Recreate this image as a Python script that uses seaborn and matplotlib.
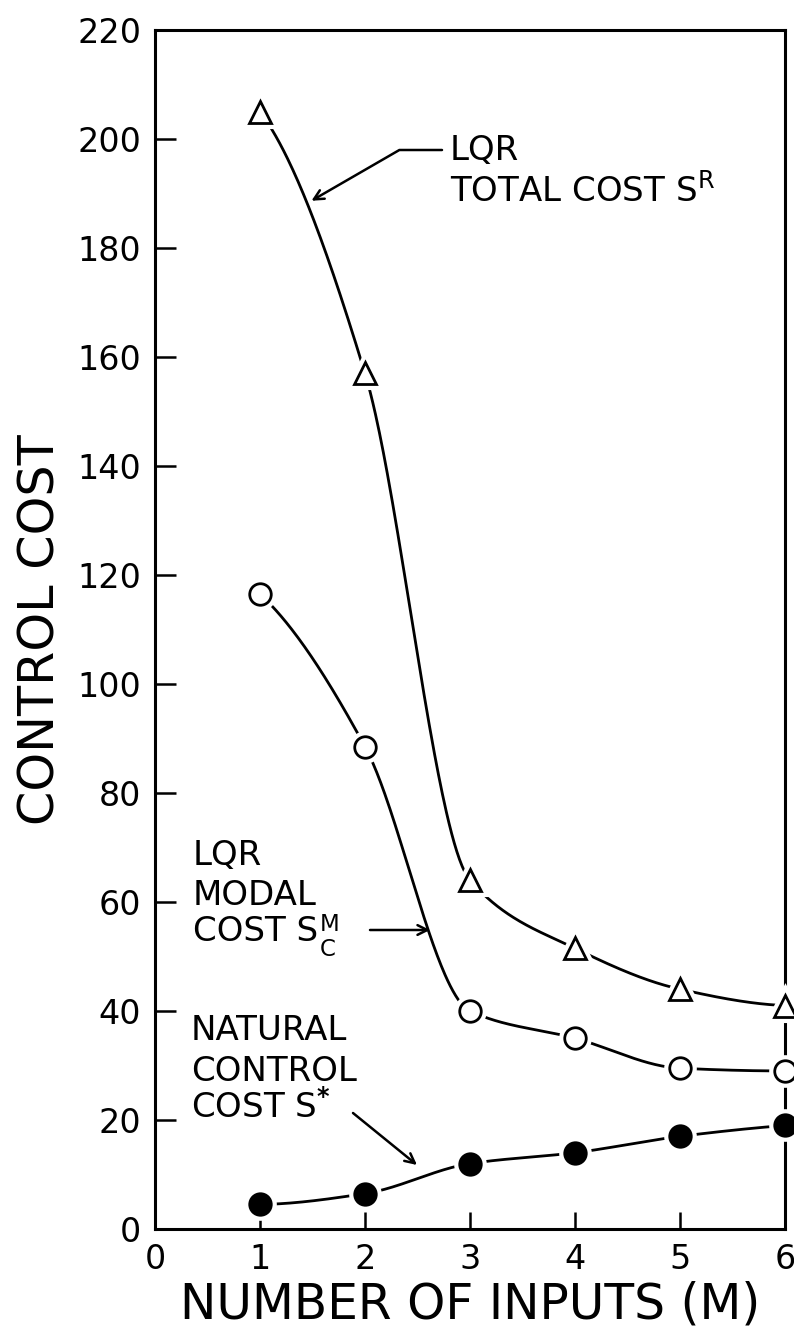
import numpy as np
import matplotlib
matplotlib.use("Agg")
import matplotlib.pyplot as plt
import seaborn as sns

# ---------------- data ----------------
inputs = [1, 2, 3, 4, 5, 6]
lqr_total = [205, 157, 64, 51.5, 44, 41]        # LQR total cost S^R (triangles)
lqr_modal = [116.5, 88.5, 40, 35, 29.5, 29]     # LQR modal cost S_C^M (open circles)
natural_cost = [4.5, 6.5, 12, 14, 17, 19]       # natural control cost S* (filled dots)
x_ticks = [0, 1, 2, 3, 4, 5, 6]
y_ticks = [0, 20, 40, 60, 80, 100, 120, 140, 160, 180, 200, 220]

sns.set_style("white")
plt.rcParams["font.family"] = ["DejaVu Sans"]
plt.rcParams["mathtext.fontset"] = "dejavusans"
plt.rcParams["text.color"] = "black"
plt.rcParams["axes.labelcolor"] = "black"

W, H, DPI = 794, 1335, 100
fig = plt.figure(figsize=(W / DPI, H / DPI), dpi=DPI)
L, R, T, B = 155, 785, 30, 1229
ax = fig.add_axes([L / W, 1 - B / H, (R - L) / W, (B - T) / H])
ax.set_xlim(0, 6)
ax.set_ylim(0, 220)


def smooth(x, y, per=80):
    """Monotone (PCHIP) smoothing used only to draw the curve through the points."""
    x = np.asarray(x, float)
    y = np.asarray(y, float)
    h = np.diff(x)
    d = np.diff(y) / h
    m = np.zeros_like(y)
    for i in range(1, len(x) - 1):
        if d[i - 1] * d[i] > 0:
            w1 = 2 * h[i] + h[i - 1]
            w2 = h[i] + 2 * h[i - 1]
            m[i] = (w1 + w2) / (w1 / d[i - 1] + w2 / d[i])

    def end(h0, h1, d0, d1):
        mm = ((2 * h0 + h1) * d0 - h0 * d1) / (h0 + h1)
        if np.sign(mm) != np.sign(d0):
            mm = 0.0
        elif np.sign(d0) != np.sign(d1) and abs(mm) > abs(3 * d0):
            mm = 3 * d0
        return mm

    m[0] = end(h[0], h[1], d[0], d[1])
    m[-1] = end(h[-1], h[-2], d[-1], d[-2])
    xs, ys = [], []
    for i in range(len(x) - 1):
        t = np.linspace(0, 1, per, endpoint=(i == len(x) - 2))
        h00 = 2 * t**3 - 3 * t**2 + 1
        h10 = t**3 - 2 * t**2 + t
        h01 = -2 * t**3 + 3 * t**2
        h11 = t**3 - t**2
        xs.append(x[i] + t * h[i])
        ys.append(h00 * y[i] + h10 * h[i] * m[i] + h01 * y[i + 1] + h11 * h[i] * m[i + 1])
    return np.concatenate(xs), np.concatenate(ys)


series = [
    (lqr_total, "^", "white", 15.5),
    (lqr_modal, "o", "white", 15.5),
    (natural_cost, "o", "black", 15.5),
]

curves = []
for vals, mk, fc, ms in series:
    xs, ys = smooth(inputs, vals)
    curves.append((xs, ys))
    sns.lineplot(x=xs, y=ys, ax=ax, color="black", lw=2.0, sort=False,
                 estimator=None, zorder=2, clip_on=False)
    # white halo giving the small gap between curve and marker
    sns.lineplot(x=inputs, y=vals, ax=ax, linestyle="none", marker=mk, ms=ms,
                 mfc="white", mec="white", mew=8, zorder=3, clip_on=False,
                 estimator=None)
    sns.lineplot(x=inputs, y=vals, ax=ax, linestyle="none", marker=mk, ms=ms,
                 mfc=fc, mec="black", mew=2.0, zorder=4, clip_on=False,
                 estimator=None)

# ---------------- axes styling ----------------
ax.set_xticks(x_ticks)
ax.set_yticks(y_ticks)
ax.set_xticklabels([str(v) for v in x_ticks])
ax.set_yticklabels([str(v) for v in y_ticks])
ax.tick_params(axis="y", direction="in", length=15, width=1.8, labelsize=24,
               pad=10, left=True, right=False, colors="black")
ax.tick_params(axis="x", direction="in", length=12, width=1.8, labelsize=24,
               pad=10, bottom=True, top=False, colors="black")
for sp in ax.spines.values():
    sp.set_visible(True)
    sp.set_linewidth(2.2)
    sp.set_color("black")
ax.set_xlabel("NUMBER OF INPUTS (M)", fontsize=35, labelpad=3)
ax.set_ylabel("CONTROL COST", fontsize=35.5, labelpad=9)
ax.grid(False)


def px(xp, yp):
    """pixel position in the figure -> data coordinates (for annotations)."""
    return (xp - L) / (R - L) * 6, (B - yp) / (B - T) * 220


fs = 24.5
arrow = dict(arrowstyle="->,head_length=0.7,head_width=0.35", lw=1.8,
             color="black", shrinkA=0, shrinkB=0)

# LQR total cost label + bent arrow
for txt, yp in [("LQR", 160), (r"TOTAL COST S$^{\mathrm{R}}$", 202)]:
    ax.text(*px(450, yp), txt, fontsize=fs, va="baseline", ha="left")
xs_t, ys_t = curves[0]
k = np.argmin(np.abs(xs_t - 1.45))
ax.annotate("", xy=(xs_t[k] + 0.04, ys_t[k] + 0.5), xytext=px(442, 150),
            arrowprops=dict(arrow, connectionstyle="angle,angleA=0,angleB=30,rad=0"))

# LQR modal cost label + arrow (sub/superscript as one small two-line text)
for txt, yp in [("LQR", 865), ("MODAL", 905), ("COST S", 941)]:
    ax.text(*px(193, yp), txt, fontsize=fs, va="baseline", ha="left")
ax.text(*px(320, 913), "M\nC", fontsize=16.5, va="top", ha="left",
        linespacing=1.12)
ax.annotate("", xy=px(430, 930), xytext=px(370, 930), arrowprops=arrow)

# natural control cost label + arrow
for txt, yp in [("NATURAL", 1040), ("CONTROL", 1081), (r"COST S$^{\mathbf{*}}$", 1118)]:
    ax.text(*px(191, yp), txt, fontsize=fs, va="baseline", ha="left")
ax.annotate("", xy=px(417, 1165), xytext=px(353, 1113), arrowprops=arrow)

fig.savefig("out.png", dpi=DPI, facecolor="white")
